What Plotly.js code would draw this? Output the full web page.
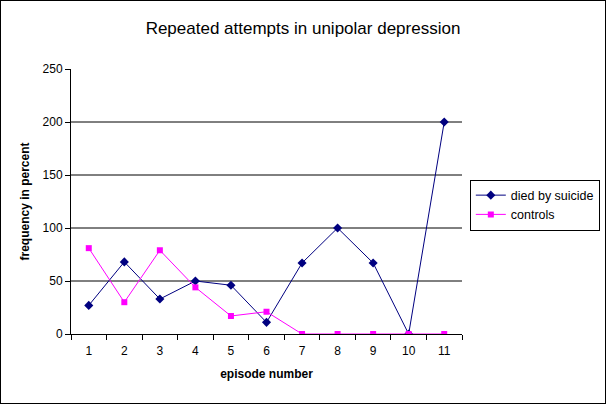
<!DOCTYPE html>
<html><head><meta charset="utf-8">
<script src="https://cdn.plot.ly/plotly-3.0.1.min.js"></script>
<style>
html,body{margin:0;padding:0;background:#fff;}
#chart{width:604px;height:402px;border:1px solid #000;}
</style></head>
<body><div id="chart"></div>
<script>
const episodes = [1,2,3,4,5,6,7,8,9,10,11];
const diedBySuicide = [27,68,33,50,46,11,67,100,67,0,200];
const controls = [81,30,79,44,17,21,0,0,0,0,0];
const gridValues = [50,100,150,200];
const yTicks = [0,50,100,150,200,250];

const traces = [
  {x: episodes, y: diedBySuicide, name: 'died by suicide', type: 'scatter', mode: 'lines+markers',
   line: {color: '#000080', width: 1}, marker: {symbol: 'diamond', size: 7, color: '#000080'}},
  {x: episodes, y: controls, name: 'controls', type: 'scatter', mode: 'lines+markers',
   line: {color: '#FF00FF', width: 1}, marker: {symbol: 'square', size: 6, color: '#FF00FF'}}
];

const shapes = gridValues.map(v => ({type: 'line', xref: 'paper', yref: 'y', x0: 0, x1: 1, y0: v, y1: v,
  line: {color: '#000', width: 1}, layer: 'below'}));

const layout = {
  width: 604, height: 402,
  margin: {l: 70, r: 143, t: 68, b: 69, autoexpand: false},
  paper_bgcolor: '#fff', plot_bgcolor: '#fff',
  font: {family: 'Arial, Liberation Sans, sans-serif', size: 11, color: '#000'},
  title: {text: 'Repeated attempts in unipolar depression', font: {size: 17, color: '#000'},
          x: 0.5, xanchor: 'center', y: 0.932, yanchor: 'middle'},
  xaxis: {range: [0.5, 11.5], tickvals: episodes, ticktext: episodes.map(String), ticks: '',
          showgrid: false, zeroline: false, showline: true, linecolor: '#000', linewidth: 1,
          minor: {ticks: 'outside', tick0: 0.5, dtick: 1, ticklen: 5, tickcolor: '#000', showgrid: false},
          tickfont: {size: 12}, ticklabelstandoff: 6,
          title: {text: '<b>episode number</b>', font: {size: 12}, standoff: 12}},
  yaxis: {range: [0, 250], tickvals: yTicks, ticks: 'outside', ticklen: 5, tickcolor: '#000',
          showgrid: false, zeroline: false, showline: true, linecolor: '#000', linewidth: 1,
          tickfont: {size: 12},
          title: {text: '<b>frequency in percent</b>', font: {size: 12}, standoff: 10}},
  shapes: shapes,
  showlegend: true,
  legend: {x: 1.02, y: 0.583, xanchor: 'left', yanchor: 'top', bordercolor: '#000', borderwidth: 1,
           bgcolor: '#fff', font: {size: 12.5}, tracegroupgap: 0, itemwidth: 30}
};

Plotly.newPlot('chart', traces, layout, {displayModeBar: false, staticPlot: true});
</script></body></html>
